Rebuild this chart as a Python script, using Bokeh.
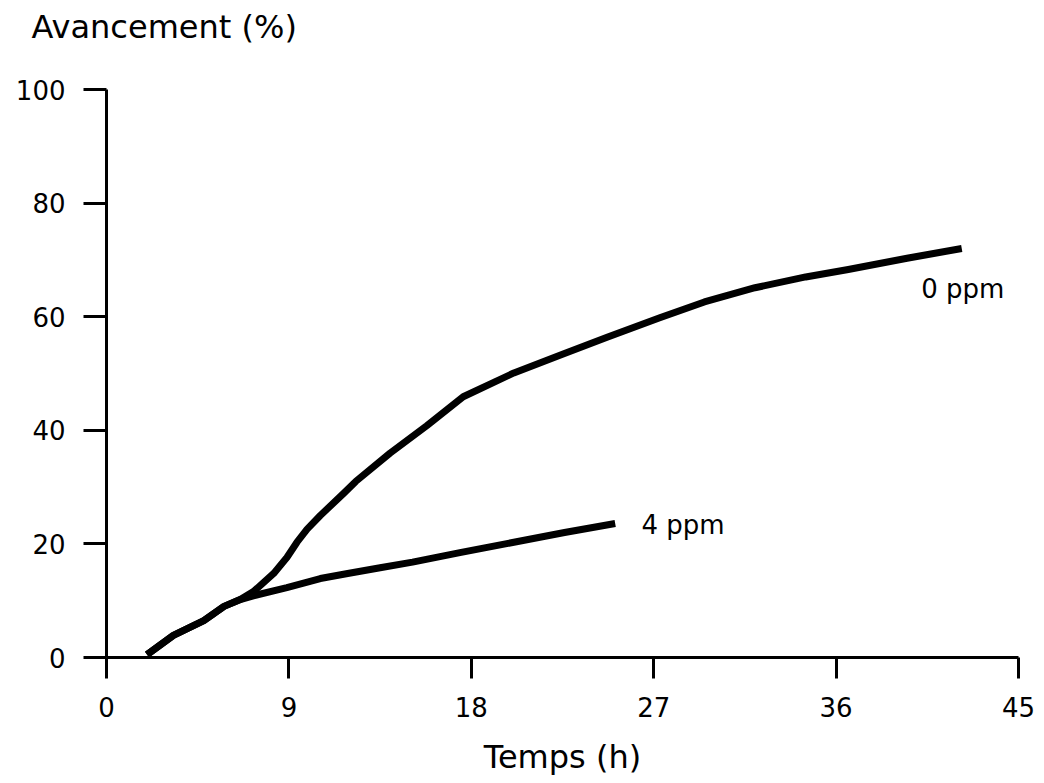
from bokeh.plotting import figure
from bokeh.models import FixedTicker, Label, Range1d, Title
from bokeh.embed import file_html
from bokeh.resources import INLINE

# Data
time_0ppm = [2.0, 3.3, 4.8, 5.8, 6.6, 7.25, 8.25, 8.9, 9.4, 9.9, 10.55, 11.7, 12.3, 14.0, 15.8,
             17.6, 20.1, 22.5, 24.7, 27.3, 29.5, 32.0, 34.5, 36.6, 39.5, 42.2]
adv_0ppm = [0.5, 3.9, 6.5, 9.0, 10.2, 11.6, 14.8, 17.6, 20.3, 22.6, 25.0, 28.9, 31.0, 36.0, 40.8,
            45.9, 50.1, 53.4, 56.4, 59.8, 62.6, 65.1, 67.0, 68.3, 70.3, 72.0]

time_4ppm = [2.0, 3.3, 4.8, 5.8, 6.6, 7.4, 8.9, 10.55, 11.9, 13.5, 15.1, 17.5, 20.1, 22.6, 25.1]
adv_4ppm = [0.5, 3.9, 6.5, 9.0, 10.2, 11.0, 12.3, 13.9, 14.8, 15.8, 16.8, 18.5, 20.3, 22.0, 23.6]

x_ticks = [0, 9, 18, 27, 36, 45]
y_ticks = [0, 20, 40, 60, 80, 100]
series_labels = ["0 ppm", "4 ppm"]

FONT = "DejaVu Sans"

p = figure(width=1040, height=780, output_backend="svg", toolbar_location=None,
           x_range=Range1d(0, 45), y_range=Range1d(0, 100),
           min_border_left=106, min_border_right=22, min_border_top=0, min_border_bottom=123)
p.outline_line_color = None
p.grid.visible = False
p.background_fill_color = "white"
p.border_fill_color = "white"

p.line(time_0ppm, adv_0ppm, line_width=7, line_color="black", line_join="round")
p.line(time_4ppm, adv_4ppm, line_width=7, line_color="black", line_join="round")

for ax in (p.xaxis[0], p.yaxis[0]):
    ax.axis_line_width = 3
    ax.axis_line_color = "black"
    ax.major_tick_line_width = 3
    ax.major_tick_line_color = "black"
    ax.major_tick_in = 0
    ax.minor_tick_line_color = None
    ax.major_label_text_font = FONT
    ax.major_label_text_font_size = "26px"
    ax.major_label_text_color = "black"

p.xaxis[0].ticker = FixedTicker(ticks=x_ticks)
p.yaxis[0].ticker = FixedTicker(ticks=y_ticks)
p.xaxis[0].major_tick_out = 21
p.yaxis[0].major_tick_out = 23
p.xaxis[0].major_label_standoff = 18
p.yaxis[0].major_label_standoff = 18

p.xaxis[0].axis_label = "Temps (h)"
p.xaxis[0].axis_label_text_font = FONT
p.xaxis[0].axis_label_text_font_size = "32px"
p.xaxis[0].axis_label_text_font_style = "normal"
p.xaxis[0].axis_label_text_color = "black"
p.xaxis[0].axis_label_standoff = 18

# spacer between frame and title (closest to the frame)
p.add_layout(Title(text=" ", text_font_size="1px", standoff=34), "above")
# the y-axis title, top left
p.add_layout(Title(text="Avancement (%)", align="left", offset=-75, standoff=12,
                   vertical_align="middle",
                   text_font=FONT, text_font_size="32px", text_font_style="normal",
                   text_color="black"), "above")

p.add_layout(Label(x=40.2, y=64.9, text=series_labels[0], text_font=FONT,
                   text_font_size="26px", text_color="black",
                   text_align="left", text_baseline="middle"))
p.add_layout(Label(x=26.4, y=23.3, text=series_labels[1], text_font=FONT,
                   text_font_size="26px", text_color="black",
                   text_align="left", text_baseline="middle"))

open("out.html", "w").write(file_html(p, INLINE))
